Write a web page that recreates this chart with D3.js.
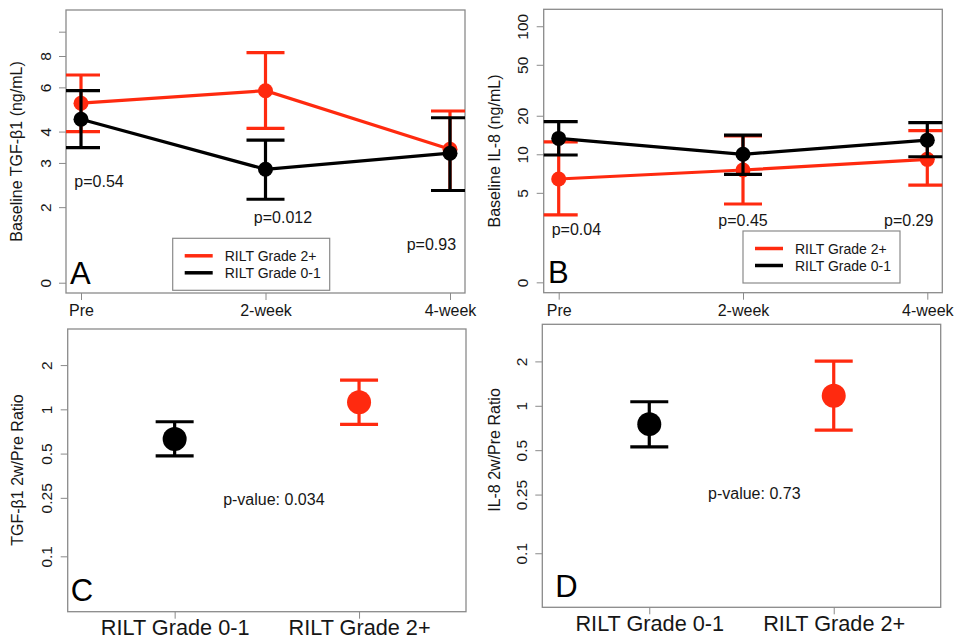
<!DOCTYPE html>
<html>
<head>
<meta charset="utf-8">
<script src="https://cdn.jsdelivr.net/npm/d3@7"></script>
<style>
  body { margin: 0; background: #fff; }
  svg { display: block; font-family: "Liberation Sans", Arial, Helvetica, sans-serif; }
</style>
</head>
<body>
<script>
// ---- data ----
var timepoints = ["Pre", "2-week", "4-week"];
var groups = ["RILT Grade 0-1", "RILT Grade 2+"];

// A: baseline TGF-b1 (ng/mL)
var tgfG2 = [5.19, 5.82, 3.40], tgfG2Lo = [4.00, 4.12, 2.33], tgfG2Hi = [6.72, 8.25, 4.83];
var tgfG01 = [4.48, 2.83, 3.28], tgfG01Lo = [3.45, 2.15, 2.33], tgfG01Hi = [5.82, 3.70, 4.54];
var tgfPvals = ["p=0.54", "p=0.012", "p=0.93"];
var tgfPvalAt = [2.41, 1.73, 1.35];

// B: baseline IL-8 (ng/mL)
var il8G2 = [6.41, 7.54, 9.13], il8G2Lo = [3.36, 4.09, 5.75], il8G2Hi = [12.5, 13.9, 15.3];
var il8G01 = [13.3, 10.0, 12.9], il8G01Lo = [9.87, 6.98, 9.57], il8G01Hi = [17.97, 14.1, 17.65];
var il8Pvals = ["p=0.04", "p=0.45", "p=0.29"];
var il8PvalAt = [2.34, 2.75, 2.75];

// C / D: 2w / pre ratios (Grade 0-1, Grade 2+)
var tgfRatio = [0.628, 1.116], tgfRatioLo = [0.483, 0.79], tgfRatioHi = [0.823, 1.58];
var il8Ratio = [0.751, 1.17], il8RatioLo = [0.527, 0.684], il8RatioHi = [1.065, 2.01];

// tick values / labels
var tgfTicks = [1, 2, 3, 4, 6, 8, 10], tgfTickLabels = ["0", "2", "3", "4", "6", "8", ""];
var il8Ticks = [1, 5, 10, 20, 50, 100], il8TickLabels = ["0", "5", "10", "20", "50", "100"];
var ratioTicks = [0.1, 0.25, 0.5, 1, 2], ratioTickLabels = ["0.1", "0.25", "0.5", "1", "2"];

var RED = "#ff2a0f", BLACK = "#000";
var AXIS_GREY = "#8a8a8a", TEXT = "#161616";

var svg = d3.select("body").append("svg")
    .attr("width", 957)
    .attr("height", 644);

var clipId = 0;

function frame(g, box, x, y, ticks, labels, xFont, xBase) {
  // y axis, labels drawn rotated like R's default las=0
  var ya = g.append("g")
      .attr("transform", "translate(" + box.x0 + ",0)")
      .call(d3.axisLeft(y).tickValues(ticks)
              .tickFormat(function(d, i) { return labels[i]; })
              .tickSize(7));
  ya.select(".domain").remove();
  ya.selectAll("line").attr("stroke", AXIS_GREY);
  ya.selectAll("text")
      .attr("x", 0).attr("dy", 0)
      .attr("transform", "translate(-15.5,0) rotate(-90)")
      .attr("text-anchor", "middle")
      .attr("fill", TEXT)
      .style("font-size", "15.5px");

  var xa = g.append("g")
      .attr("transform", "translate(0," + box.y1 + ")")
      .call(d3.axisBottom(x).tickSize(7));
  xa.select(".domain").remove();
  xa.selectAll("line").attr("stroke", AXIS_GREY);
  xa.selectAll("text")
      .attr("y", xBase).attr("dy", 0)
      .attr("fill", TEXT)
      .style("font-size", xFont + "px");

  g.append("rect")
      .attr("x", box.x0).attr("y", box.y0)
      .attr("width", box.x1 - box.x0).attr("height", box.y1 - box.y0)
      .attr("fill", "none")
      .attr("stroke", AXIS_GREY)
      .attr("stroke-width", 1.3);

  var id = "clip" + (clipId++);
  g.append("clipPath").attr("id", id)
    .append("rect")
      .attr("x", box.x0).attr("y", box.y0)
      .attr("width", box.x1 - box.x0).attr("height", box.y1 - box.y0);
  return g.append("g").attr("clip-path", "url(#" + id + ")");
}

function errorBars(plot, x, y, cats, mean, lo, hi, color, r) {
  var d = cats.map(function(c, i) { return { c: c, m: mean[i], lo: lo[i], hi: hi[i] }; });
  var capw = 19;
  plot.selectAll(null).data(d).enter().append("line")
      .attr("x1", function(d) { return x(d.c); })
      .attr("x2", function(d) { return x(d.c); })
      .attr("y1", function(d) { return y(d.lo); })
      .attr("y2", function(d) { return y(d.hi); })
      .attr("stroke", color).attr("stroke-width", 3.2);
  ["lo", "hi"].forEach(function(k) {
    plot.selectAll(null).data(d).enter().append("line")
        .attr("x1", function(d) { return x(d.c) - capw; })
        .attr("x2", function(d) { return x(d.c) + capw; })
        .attr("y1", function(d) { return y(d[k]); })
        .attr("y2", function(d) { return y(d[k]); })
        .attr("stroke", color).attr("stroke-width", 3.2);
  });
  plot.selectAll(null).data(d).enter().append("circle")
      .attr("cx", function(d) { return x(d.c); })
      .attr("cy", function(d) { return y(d.m); })
      .attr("r", r)
      .attr("fill", color);
}

function letter(g, txt, px, py) {
  g.append("text").attr("x", px).attr("y", py)
      .attr("fill", "#000")
      .style("font-size", "31px")
      .text(txt);
}

function yTitle(g, txt, px, py) {
  g.append("text")
      .attr("transform", "translate(" + px + "," + py + ") rotate(-90)")
      .attr("text-anchor", "middle")
      .attr("fill", TEXT)
      .style("font-size", "16px")
      .text(txt);
}

function timePanel(cfg) {
  var box = cfg.box;
  var g = svg.append("g");
  var x = d3.scalePoint().domain(timepoints).range([box.x0 + 15, box.x1 - 15]);
  var y = d3.scaleLog().domain(cfg.ydomain).range([box.y1, box.y0]);
  var plot = frame(g, box, x, y, cfg.ticks, cfg.tickLabels, 16, 23);

  var line = d3.line()
      .x(function(d) { return x(d.c); })
      .y(function(d) { return y(d.v); });
  cfg.series.forEach(function(s) {
    plot.append("path")
        .datum(timepoints.map(function(c, i) { return { c: c, v: s.mean[i] }; }))
        .attr("d", line)
        .attr("fill", "none")
        .attr("stroke", s.color)
        .attr("stroke-width", 3.2);
    errorBars(plot, x, y, timepoints, s.mean, s.lo, s.hi, s.color, 7.5);
  });

  g.selectAll(null).data(cfg.pvals).enter().append("text")
      .attr("x", function(d, i) { return x(timepoints[i]) + cfg.pdx[i]; })
      .attr("y", function(d, i) { return y(cfg.pAt[i]); })
      .attr("text-anchor", "middle")
      .attr("fill", TEXT)
      .style("font-size", "16px")
      .text(function(d) { return d; });

  // legend
  var lg = g.append("g").attr("transform", "translate(" + cfg.legend[0] + "," + cfg.legend[1] + ")");
  lg.append("rect").attr("width", 157).attr("height", 52)
      .attr("fill", "#fff").attr("stroke", AXIS_GREY).attr("stroke-width", 1.2);
  [{ t: groups[1], c: RED }, { t: groups[0], c: BLACK }].forEach(function(e, i) {
    var yy = 17.5 + i * 17;
    lg.append("line").attr("x1", 12).attr("x2", 40).attr("y1", yy).attr("y2", yy)
        .attr("stroke", e.c).attr("stroke-width", 3.5);
    lg.append("text").attr("x", 52).attr("y", yy + 5)
        .attr("fill", TEXT).style("font-size", "14px").text(e.t);
  });

  letter(g, cfg.letter, box.x0 + cfg.letterPos[0], box.y1 - cfg.letterPos[1]);
  yTitle(g, cfg.title, cfg.titlePos[0], cfg.titlePos[1]);
}

function ratioPanel(cfg) {
  var box = cfg.box;
  var g = svg.append("g");
  var x = d3.scalePoint().domain(groups).range([box.x0, box.x1]).padding(0.58);
  var y = d3.scaleLog().domain(cfg.ydomain).range([box.y1, box.y0]);
  var plot = frame(g, box, x, y, ratioTicks, ratioTickLabels, 21.7, 23.5);

  errorBars(plot, x, y, [groups[0]], [cfg.mean[0]], [cfg.lo[0]], [cfg.hi[0]], BLACK, 12);
  errorBars(plot, x, y, [groups[1]], [cfg.mean[1]], [cfg.lo[1]], [cfg.hi[1]], RED, 12);

  g.append("text")
      .attr("x", (x(groups[0]) + x(groups[1])) / 2 + cfg.pdx)
      .attr("y", y(cfg.pAt))
      .attr("text-anchor", "middle")
      .attr("fill", TEXT)
      .style("font-size", "16px")
      .text(cfg.pval);

  letter(g, cfg.letter, box.x0 + cfg.letterPos[0], box.y1 - cfg.letterPos[1]);
  yTitle(g, cfg.title, cfg.titlePos[0], cfg.titlePos[1]);
}

timePanel({
  box: { x0: 66, x1: 465, y0: 10, y1: 293 },
  ydomain: [0.91, 12.2],
  ticks: tgfTicks, tickLabels: tgfTickLabels,
  series: [
    { mean: tgfG2, lo: tgfG2Lo, hi: tgfG2Hi, color: RED },
    { mean: tgfG01, lo: tgfG01Lo, hi: tgfG01Hi, color: BLACK }
  ],
  pvals: tgfPvals, pAt: tgfPvalAt, pdx: [18, 17.5, -18.6],
  legend: [172.7, 238.3],
  letter: "A", letterPos: [4, 9],
  title: "Baseline TGF-\u03b21 (ng/mL)", titlePos: [22, 151.5]
});

timePanel({
  box: { x0: 543.7, x1: 942.3, y0: 9.3, y1: 292.7 },
  ydomain: [0.83, 135.6],
  ticks: il8Ticks, tickLabels: il8TickLabels,
  series: [
    { mean: il8G2, lo: il8G2Lo, hi: il8G2Hi, color: RED },
    { mean: il8G01, lo: il8G01Lo, hi: il8G01Hi, color: BLACK }
  ],
  pvals: il8Pvals, pAt: il8PvalAt, pdx: [17.7, 0, -18.6],
  legend: [743, 231],
  letter: "B", letterPos: [4.3, 9.5],
  title: "Baseline IL-8 (ng/mL)", titlePos: [499.5, 151]
});

ratioPanel({
  box: { x0: 67.7, x1: 466, y0: 329, y1: 611.7 },
  ydomain: [0.042, 3.52],
  mean: tgfRatio, lo: tgfRatioLo, hi: tgfRatioHi,
  pval: "p-value: 0.034", pAt: 0.223, pdx: 7,
  letter: "C", letterPos: [3, 11],
  title: "TGF-\u03b21 2w/Pre Ratio", titlePos: [22.5, 470]
});

ratioPanel({
  box: { x0: 542.3, x1: 940.7, y0: 324.3, y1: 607.3 },
  ydomain: [0.043, 3.57],
  mean: il8Ratio, lo: il8RatioLo, hi: il8RatioHi,
  pval: "p-value: 0.73", pAt: 0.233, pdx: 12.8,
  letter: "D", letterPos: [13, 10.6],
  title: "IL-8 2w/Pre Ratio", titlePos: [499.5, 450]
});
</script>
</body>
</html>
